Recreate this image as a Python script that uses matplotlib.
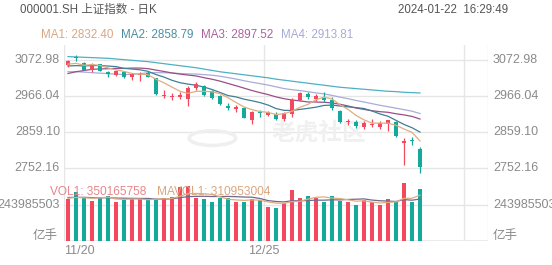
import matplotlib.pyplot as plt
from matplotlib.patches import Circle

plt.rcParams['font.family'] = ['Liberation Sans', 'Noto Sans CJK SC']

# daily candles, 2023-11-20 .. 2024-01-22
opens = [3057, 3082, 3063, 3044, 3060, 3038, 3029, 3037, 3022, 3028,
         3035, 3019, 2966, 2963, 2962, 2958, 2990, 2997, 2980, 2965,
         2937, 2928, 2930, 2895, 2918, 2911, 2914, 2898, 2912, 2954,
         2973, 2958, 2963, 2953, 2922, 2888, 2889, 2874, 2880, 2874,
         2884, 2889, 2826, 2835, 2810]
highs = [3073, 3089, 3066, 3064, 3062, 3040, 3042, 3040, 3034, 3036,
         3041, 3020, 2983, 2975, 2978, 2996, 3007, 3000, 2985, 2968,
         2944, 2938, 2933, 2920, 2925, 2922, 2918, 2917, 2961, 2977,
         2977, 2972, 2978, 2963, 2924, 2897, 2895, 2891, 2898, 2893,
         2896, 2891, 2841, 2843, 2815]
lows = [3052, 3071, 3043, 3037, 3039, 3021, 3026, 3020, 3013, 3012,
        3021, 2968, 2959, 2955, 2958, 2935, 2985, 2966, 2957, 2940,
        2924, 2918, 2900, 2884, 2905, 2906, 2894, 2893, 2905, 2950,
        2958, 2952, 2947, 2923, 2885, 2880, 2872, 2868, 2873, 2868,
        2862, 2843, 2761, 2821, 2736]
closes = [3069, 3079, 3044, 3062, 3041, 3032, 3039, 3022, 3030, 3032,
          3023, 2972, 2969, 2966, 2970, 2991, 3003, 2969, 2959, 2943,
          2931, 2932, 2902, 2919, 2915, 2919, 2899, 2915, 2955, 2975,
          2962, 2967, 2954, 2929, 2888, 2893, 2878, 2887, 2882, 2886,
          2894, 2846, 2832, 2832, 2756]
volumes = [283, 329, 289, 273, 289, 306, 266, 278, 283, 289,
           283, 283, 289, 296, 366, 371, 289, 283, 266, 289,
           289, 266, 266, 283, 278, 231, 227, 255, 343, 289,
           306, 289, 266, 306, 273, 262, 243, 278, 262, 243,
           283, 262, 394, 266, 350.17]  # millions

ma1 = [3060.6, 3063.0, 3057.3, 3059.5, 3056.8, 3049.4, 3043.6, 3039.2, 3032.8, 3031.0,
       3029.2, 3015.8, 3005.2, 2992.4, 2980.0, 2973.6, 2979.8, 2979.8, 2978.4, 2973.0,
       2961.0, 2946.8, 2933.4, 2925.4, 2919.8, 2917.4, 2910.8, 2913.4, 2920.6, 2932.6,
       2941.2, 2954.8, 2962.6, 2957.4, 2940.0, 2926.2, 2908.4, 2895.0, 2885.6, 2885.2,
       2885.4, 2879.0, 2868.0, 2858.0, 2832.4]
ma2 = [3055.2, 3056.2, 3055.4, 3056.3, 3056.5, 3055.0, 3053.3, 3048.2, 3046.1, 3043.9,
       3039.3, 3029.7, 3022.2, 3012.6, 3005.5, 3001.4, 2997.8, 2992.5, 2985.4, 2976.5,
       2967.3, 2963.3, 2956.6, 2951.9, 2946.4, 2939.2, 2928.8, 2923.4, 2923.0, 2926.2,
       2929.3, 2932.8, 2938.0, 2939.0, 2936.3, 2933.7, 2931.6, 2928.8, 2921.5, 2912.6,
       2905.8, 2893.7, 2881.5, 2871.8, 2858.8]
ma3 = [3032.8, 3038.1, 3041.6, 3045.3, 3046.4, 3047.0, 3048.0, 3047.9, 3048.9, 3049.0,
       3047.2, 3043.0, 3038.8, 3034.4, 3031.0, 3028.2, 3025.6, 3020.4, 3015.8, 3010.2,
       3003.3, 2996.5, 2989.4, 2982.3, 2976.0, 2970.3, 2963.3, 2958.0, 2954.2, 2951.4,
       2948.3, 2948.1, 2947.3, 2945.5, 2941.4, 2936.5, 2930.2, 2926.1, 2922.3, 2919.4,
       2917.6, 2913.3, 2909.8, 2905.4, 2897.5]
ma4 = [3038.2, 3038.1, 3036.9, 3035.4, 3033.8, 3032.4, 3030.9, 3029.7, 3030.5, 3032.2,
       3035.0, 3035.3, 3035.1, 3034.4, 3032.8, 3031.8, 3031.2, 3029.4, 3027.8, 3024.8,
       3020.6, 3016.4, 3011.4, 3006.9, 3002.8, 2998.5, 2993.3, 2988.0, 2984.8, 2982.2,
       2978.6, 2975.3, 2972.3, 2967.8, 2962.7, 2958.1, 2952.7, 2948.2, 2943.3, 2938.4,
       2934.1, 2929.9, 2925.4, 2920.9, 2913.8]
ma5 = [3083, 3082, 3081, 3080, 3079, 3078, 3076, 3074, 3072, 3070,
       3068, 3065, 3062, 3059, 3056, 3053, 3050, 3046, 3042, 3038,
       3035, 3032, 3029, 3026, 3023, 3020, 3016, 3013, 3010, 3007,
       3004, 3001, 2998, 2995, 2992, 2990, 2988, 2986, 2984, 2982,
       2980, 2979, 2977, 2976, 2975]
mavol1 = [290, 295, 293, 290, 292.6, 297.2, 284.6, 282.4, 284.4, 284.4,
          279.8, 283.2, 285.4, 288.0, 303.4, 321.0, 322.2, 321.0, 315.0, 299.6,
          283.2, 278.6, 275.2, 278.6, 276.4, 264.8, 257.0, 254.8, 266.8, 269.0,
          284.0, 296.4, 298.6, 291.2, 288.0, 279.2, 270.0, 272.4, 263.6, 257.6,
          261.8, 265.6, 288.8, 289.6, 310.95]
mavol2 = [295, 296, 296, 294, 293, 293, 291, 290, 289, 288.5,
          288.5, 283.9, 283.9, 286.2, 293.9, 300.4, 302.7, 303.2, 301.5, 301.5,
          302.1, 300.4, 298.1, 296.8, 288.0, 274.0, 267.8, 265.0, 272.7, 272.7,
          274.4, 276.7, 276.7, 279.0, 278.5, 281.6, 283.2, 285.5, 277.4, 272.8,
          270.5, 267.8, 280.6, 276.6, 284.3]

price_ticks = [3072.98, 2966.04, 2859.10, 2752.16]
vol_tick = 243985503
date_ticks = [-0.5, 24.5]
date_labels = ['11/20', '12/25']

RED = '#f2495e'
GREEN = '#14a99a'
GRID = '#e6e6e6'
TXT = '#8a8a8a'

fig = plt.figure(figsize=(5.52, 2.65), dpi=100)
ax = fig.add_axes([64 / 552, 1 - 178 / 265, 424 / 552, 133 / 265])
axv = fig.add_axes([64 / 552, 1 - 241 / 265, 424 / 552, 63 / 265])

x = list(range(len(closes)))
colors = [RED if c >= o else GREEN for o, c in zip(opens, closes)]

# price panel
ax.set_xlim(-0.5, 52.5)
ax.set_ylim(2722.4, 3117.5)
for p in price_ticks:
    ax.axhline(p, color=GRID, lw=1, zorder=0)
for gx in [-0.5, 24.5, 49.5, 52.5]:
    ax.axvline(gx, color=GRID, lw=1, zorder=0)

ax.vlines(x, lows, highs, colors=colors, lw=0.9, zorder=3)
bodies = [max(abs(c - o), 2.5) for o, c in zip(opens, closes)]
bottoms = [min(o, c) for o, c in zip(opens, closes)]
ax.bar(x, bodies, bottom=bottoms, width=0.62, color=colors, lw=0, zorder=4)

ax.plot(x, ma5, color='#4fb0c4', lw=0.9, zorder=2)
ax.plot(x, ma4, color='#a9acd8', lw=0.9, zorder=2)
ax.plot(x, ma3, color='#9a4f86', lw=0.9, zorder=2)
ax.plot(x, ma2, color='#3f7f96', lw=0.9, zorder=2)
ax.plot(x, ma1, color='#e0ad82', lw=0.9, zorder=5)

for p in price_ticks:
    ax.text(-0.0094, p, f'{p:.2f}', transform=ax.get_yaxis_transform(),
            ha='right', va='center', fontsize=9, color=TXT)
    ax.text(1.0118, p, f'{p:.2f}', transform=ax.get_yaxis_transform(),
            ha='left', va='center', fontsize=9, color=TXT)
ax.axis('off')

# watermark
ax.add_patch(Circle((0.35, 0.3), 0.055, transform=ax.transAxes, fill=False,
                    ec='#efefef', lw=2.5, zorder=1))
ax.text(0.6, 0.33, '老虎社区', transform=ax.transAxes, ha='center', va='center',
        fontsize=17, fontweight='bold', style='italic', color='#f0f0f0', zorder=1)

# volume panel
axv.set_xlim(-0.5, 52.5)
axv.set_ylim(0, 427)
axv.axhline(vol_tick / 1e6, color=GRID, lw=1, zorder=0)
axv.axhline(0, color=GRID, lw=1.2, zorder=0)
for gx in [-0.5, 24.5, 49.5, 52.5]:
    axv.axvline(gx, color=GRID, lw=1, zorder=0)
axv.bar(x, volumes, width=0.62, color=colors, lw=0, zorder=2)
axv.plot(x, mavol2, color='#6f6a8e', lw=0.9, zorder=3)
axv.plot(x, mavol1, color='#e0ad82', lw=0.9, zorder=3)
axv.axis('off')

axv.text(-0.0094, vol_tick / 1e6, str(vol_tick), transform=axv.get_yaxis_transform(),
         ha='right', va='center', fontsize=9, color=TXT)
axv.text(1.0118, vol_tick / 1e6, str(vol_tick), transform=axv.get_yaxis_transform(),
         ha='left', va='center', fontsize=9, color=TXT)
fig.text(58 / 552, 1 - 236 / 265, '亿手', ha='right', va='center', fontsize=9, color=TXT)
fig.text(493 / 552, 1 - 236 / 265, '亿手', ha='left', va='center', fontsize=9, color=TXT)

for dx, lab in zip(date_ticks, date_labels):
    ha = 'left' if dx < 0 else 'center'
    axv.text(dx, -0.16, lab, transform=axv.get_xaxis_transform(), ha=ha,
             va='center', fontsize=9, color=TXT)

fig.text(50 / 552, 1 - 192 / 265, 'VOL1: 350165758', fontsize=8.6, color='#e9858a',
         va='center', zorder=10)
fig.text(157 / 552, 1 - 192 / 265, 'MAVOL1: 310953004', fontsize=8.6, color='#d9a77f',
         va='center', zorder=10)

# header
fig.text(20 / 552, 1 - 10 / 265, '000001.SH 上证指数 - 日K', fontsize=8.3,
         color='#555555', va='center')
fig.text(508 / 552, 1 - 10 / 265, '2024-01-22  16:29:49', fontsize=8.3,
         color='#555555', va='center', ha='right')
legend = [('MA1: 2832.40', '#d9a781', 41), ('MA2: 2858.79', '#4b8ea3', 121),
          ('MA3: 2897.52', '#b0609e', 201), ('MA4: 2913.81', '#a6abd8', 281)]
for txt, col, px in legend:
    fig.text(px / 552, 1 - 35 / 265, txt, fontsize=8.4, color=col, va='center')

fig.savefig('out.png', dpi=100)
